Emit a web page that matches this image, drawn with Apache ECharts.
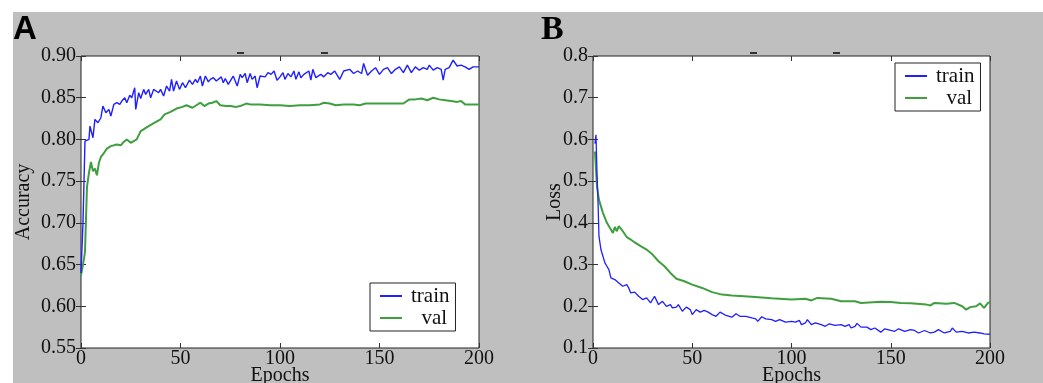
<!DOCTYPE html>
<html>
<head>
<meta charset="utf-8">
<script src="https://cdn.jsdelivr.net/npm/echarts@6/dist/echarts.min.js"></script>
<style>
  html, body { margin: 0; padding: 0; background: #fff; }
  #bg { position: absolute; left: 13px; top: 12px; width: 1030px; height: 371px; background: #bfbfbf; }
  #chart { position: absolute; left: 0; top: 0; width: 1043px; height: 383px; }
</style>
</head>
<body>
<div id="bg"></div>
<div id="chart"></div>
<script>
// panel A: accuracy, [epoch, value]
const trainAcc = [
  [0,0.640],[1,0.700],[2,0.798],[3,0.796],[4,0.800],[4.5,0.816],[6,0.802],[7,0.824],[8.5,0.820],[10,0.826],
  [11,0.840],[12.5,0.832],[14,0.836],[15,0.828],[16.5,0.842],[18,0.844],[19.5,0.842],[20.5,0.846],[22,0.850],
  [23,0.844],[24.5,0.853],[25.5,0.850],[27,0.862],[27.5,0.836],[29,0.856],[30,0.849],[31.5,0.860],[32.5,0.854],
  [34,0.860],[35,0.850],[36.5,0.860],[37.5,0.862],[39,0.856],[40,0.860],[41.5,0.852],[43,0.864],[44.5,0.858],
  [45.5,0.872],[46.5,0.858],[48,0.870],[49.5,0.860],[51,0.868],[52.5,0.862],[54.5,0.871],[56,0.866],[57.5,0.872],
  [58.5,0.868],[60,0.876],[61,0.864],[62.5,0.876],[64,0.869],[65,0.872],[66.5,0.874],[68,0.870],[69,0.870],
  [70.5,0.875],[71.5,0.868],[72.5,0.873],[74,0.866],[75.5,0.872],[76.5,0.876],[77.5,0.870],[78.5,0.864],[80,0.878],
  [81,0.874],[82.5,0.879],[83.5,0.868],[85,0.879],[86,0.872],[87.5,0.876],[88.5,0.862],[90,0.876],[91,0.878],
  [92.5,0.875],[94,0.880],[95.5,0.878],[97,0.882],[98.5,0.871],[100,0.875],[101.5,0.880],[102.5,0.872],[104,0.879],
  [105.5,0.875],[107,0.882],[108,0.872],[109.5,0.881],[110.5,0.874],[112,0.878],[113,0.876],[114.5,0.882],
  [115.5,0.871],[116.5,0.884],[118,0.874],[119,0.876],[120.5,0.878],[122,0.875],[124,0.880],[125.5,0.878],
  [127.5,0.882],[128.5,0.883],[130,0.872],[131,0.871],[132,0.882],[133,0.880],[135,0.884],[136,0.882],
  [137,0.879],[139,0.882],[141,0.879],[142,0.891],[144,0.877],[146,0.882],[148,0.886],[150,0.878],
  [152,0.884],[154,0.886],[156,0.879],[158,0.884],[160,0.887],[162,0.880],[164,0.889],[166,0.880],[168,0.887],
  [170,0.883],[172,0.886],[174,0.884],[175,0.889],[177,0.883],[179,0.886],[181,0.884],[182,0.871],[183,0.884],
  [185,0.886],[187,0.895],[189,0.888],[191,0.889],[193,0.887],[195,0.884],[197,0.887],[200,0.887]
];
const valAcc = [
  [0,0.637],[1,0.650],[2,0.665],[3,0.743],[4,0.760],[5,0.773],[6,0.762],[7,0.765],[8,0.757],[9,0.772],[10,0.779],
  [11,0.782],[13,0.789],[15,0.792],[18,0.794],[20,0.793],[21,0.796],[23,0.800],[25,0.796],[28,0.800],[30,0.810],
  [32,0.813],[34,0.816],[37,0.820],[40,0.824],[42,0.830],[45,0.833],[48,0.837],[51,0.839],[53,0.841],[56,0.838],
  [58,0.841],[60,0.844],[62,0.840],[64,0.843],[66,0.844],[68,0.846],[70,0.841],[73,0.840],[75,0.840],[78,0.839],
  [80,0.840],[83,0.843],[85,0.842],[90,0.842],[95,0.841],[100,0.841],[105,0.840],[110,0.841],[115,0.841],
  [120,0.842],[122,0.844],[125,0.843],[128,0.841],[132,0.842],[137,0.842],[140,0.841],[143,0.843],[148,0.843],
  [155,0.843],[162,0.843],[165,0.848],[168,0.848],[171,0.849],[174,0.847],[177,0.850],[180,0.848],[183,0.847],
  [186,0.846],[189,0.845],[191,0.846],[193,0.842],[196,0.842],[200,0.842]
];
// panel B: loss, [epoch, value]
const trainLoss = [
  [1,0.590],[1.5,0.611],[2,0.520],[2.5,0.455],[3,0.368],[4,0.336],[5,0.320],[6,0.304],[7,0.296],[8,0.288],
  [9,0.268],[10,0.270],[11,0.264],[12,0.262],[13,0.256],[14,0.258],[15,0.248],[16,0.250],[17,0.252],[18,0.244],
  [19,0.232],[21,0.234],[23,0.224],[25,0.216],[27,0.220],[29,0.208],[31,0.224],[33,0.204],[35,0.212],[37,0.200],
  [39,0.204],[40,0.196],[42,0.198],[43,0.204],[45,0.188],[47,0.198],[49,0.192],[50,0.180],[52,0.192],[54,0.186],
  [56,0.190],[58,0.186],[60,0.180],[62,0.176],[64,0.186],[65,0.184],[67,0.178],[68,0.180],[70,0.174],[72,0.182],
  [74,0.176],[75,0.172],[77,0.176],[78,0.180],[80,0.172],[82,0.170],[83,0.164],[85,0.175],[87,0.170],[88,0.168],
  [90,0.168],[92,0.164],[94,0.168],[95,0.166],[97,0.162],[98,0.162],[100,0.164],[102,0.162],[104,0.166],
  [105,0.156],[107,0.160],[108,0.168],[110,0.156],[112,0.160],[113,0.158],[115,0.156],[117,0.152],[119,0.158],
  [120,0.162],[122,0.154],[123,0.154],[125,0.156],[127,0.152],[129,0.156],[130,0.148],[132,0.152],[133,0.159],
  [135,0.150],[136,0.148],[138,0.150],[140,0.144],[142,0.148],[143,0.148],[145,0.138],[147,0.146],[148,0.148],
  [150,0.142],[152,0.140],[154,0.146],[155,0.148],[157,0.140],[158,0.138],[160,0.144],[162,0.142],[164,0.136],
  [165,0.137],[167,0.142],[168,0.140],[170,0.136],[172,0.138],[174,0.144],[175,0.140],[177,0.136],[178,0.133],
  [180,0.140],[181,0.148],[183,0.138],[184,0.138],[186,0.140],[187,0.140],[189,0.136],[190,0.135],[192,0.138],
  [195,0.136],[197,0.134],[198,0.130],[200,0.133]
];
const valLoss = [
  [1,0.571],[2,0.487],[3,0.455],[5,0.424],[7,0.400],[9,0.384],[10,0.376],[11,0.390],[12,0.380],[13,0.392],
  [15,0.380],[17,0.366],[19,0.360],[21,0.353],[24,0.344],[27,0.336],[30,0.324],[33,0.308],[36,0.296],[39,0.280],
  [42,0.266],[46,0.260],[50,0.252],[55,0.244],[60,0.234],[65,0.228],[70,0.226],[80,0.223],[90,0.219],[100,0.216],
  [107,0.218],[110,0.214],[113,0.220],[120,0.218],[125,0.212],[132,0.212],[135,0.208],[145,0.211],[150,0.210],
  [155,0.208],[160,0.207],[168,0.204],[170,0.202],[172,0.208],[178,0.206],[182,0.208],[186,0.200],[188,0.192],
  [190,0.198],[193,0.200],[195,0.207],[197,0.196],[199,0.208],[200,0.210]
];
const legendNames = ['train', 'val'];

const BLUE = '#1f1fff';
const GREEN = '#3f9f3f';
const serif = 'Liberation Serif';
const labelStyle = { color: '#111', fontFamily: serif, fontSize: 20 };
const tick = { show: true, inside: true, length: 5, lineStyle: { color: '#333' } };

function xAxes(gridIndex) {
  return [
    {
      gridIndex, type: 'value', min: 0, max: 200, interval: 50, position: 'bottom',
      name: 'Epochs', nameLocation: 'middle', nameGap: 18, nameMoveOverlap: false,
      nameTextStyle: labelStyle,
      axisLine: { show: false }, axisTick: tick, splitLine: { show: false },
      axisLabel: Object.assign({ margin: 1, showMinLabel: true, showMaxLabel: true }, labelStyle),
    },
    {
      gridIndex, type: 'value', min: 0, max: 200, interval: 50, position: 'top',
      axisLine: { show: false }, axisTick: tick, splitLine: { show: false },
      axisLabel: { show: false },
    },
  ];
}
function yAxes(gridIndex, min, max, interval, digits, name, nameGap) {
  return [
    {
      gridIndex, type: 'value', min, max, interval, position: 'left',
      name, nameLocation: 'middle', nameGap, nameMoveOverlap: false, nameTextStyle: labelStyle,
      axisLine: { show: false }, axisTick: tick, splitLine: { show: false },
      axisLabel: Object.assign({ margin: 5, formatter: (v) => v.toFixed(digits) }, labelStyle),
    },
    {
      gridIndex, type: 'value', min, max, interval, position: 'right',
      axisLine: { show: false }, axisTick: tick, splitLine: { show: false },
      axisLabel: { show: false },
    },
  ];
}
function legend(left, top) {
  return {
    left, top, orient: 'vertical', data: legendNames,
    icon: 'rect', itemWidth: 22, itemHeight: 2, itemGap: 0,
    padding: [2, 6, 2, 10],
    backgroundColor: '#fff', borderColor: '#222', borderWidth: 1, borderRadius: 0,
    formatter: (n) => (n === 'val' ? '  val' : n),
    textStyle: { color: '#111', fontFamily: serif, fontSize: 21, lineHeight: 22, padding: [0, 0, 0, 4] },
    selectedMode: false,
  };
}
function line(name, data, xi, yi, color, width) {
  return {
    name, type: 'line', data, xAxisIndex: xi, yAxisIndex: yi,
    showSymbol: false, symbol: 'none', color,
    lineStyle: { color, width }, z: name === 'train' ? 3 : 2,
  };
}

const chart = echarts.init(document.getElementById('chart'));
chart.setOption({
  animation: false,
  backgroundColor: 'transparent',
  title: [
    { text: 'A', left: 13, top: 13, padding: 0, textStyle: { fontFamily: 'Liberation Sans', fontWeight: 'bold', fontSize: 33, color: '#000' } },
    { text: 'B', left: 541, top: 13, padding: 0, textStyle: { fontFamily: 'Liberation Serif', fontWeight: 'bold', fontSize: 34, color: '#000' } },
  ],
  grid: [
    { left: 81, top: 56, width: 398, height: 292, show: true, backgroundColor: '#fff', borderColor: '#222', borderWidth: 1, outerBoundsMode: 'none' },
    { left: 593, top: 56, width: 397, height: 292, show: true, backgroundColor: '#fff', borderColor: '#222', borderWidth: 1, outerBoundsMode: 'none' },
  ],
  xAxis: [...xAxes(0), ...xAxes(1)],
  yAxis: [...yAxes(0, 0.55, 0.90, 0.05, 2, 'Accuracy', 47), ...yAxes(1, 0.1, 0.8, 0.1, 1, 'Loss', 28)],
  legend: [legend(370, 283), legend(895, 63)],
  graphic: [
    { type: 'rect', shape: { x: 237, y: 52, width: 7, height: 2 }, style: { fill: '#333' } },
    { type: 'rect', shape: { x: 321, y: 52, width: 7, height: 2 }, style: { fill: '#333' } },
    { type: 'rect', shape: { x: 750, y: 52, width: 7, height: 2 }, style: { fill: '#333' } },
    { type: 'rect', shape: { x: 833, y: 52, width: 7, height: 2 }, style: { fill: '#333' } },
  ],
  series: [
    line('train', trainAcc, 0, 0, BLUE, 1.4),
    line('val', valAcc, 0, 0, GREEN, 2),
    line('train', trainLoss, 2, 2, BLUE, 1.3),
    line('val', valLoss, 2, 2, GREEN, 2),
  ],
});
</script>
</body>
</html>
